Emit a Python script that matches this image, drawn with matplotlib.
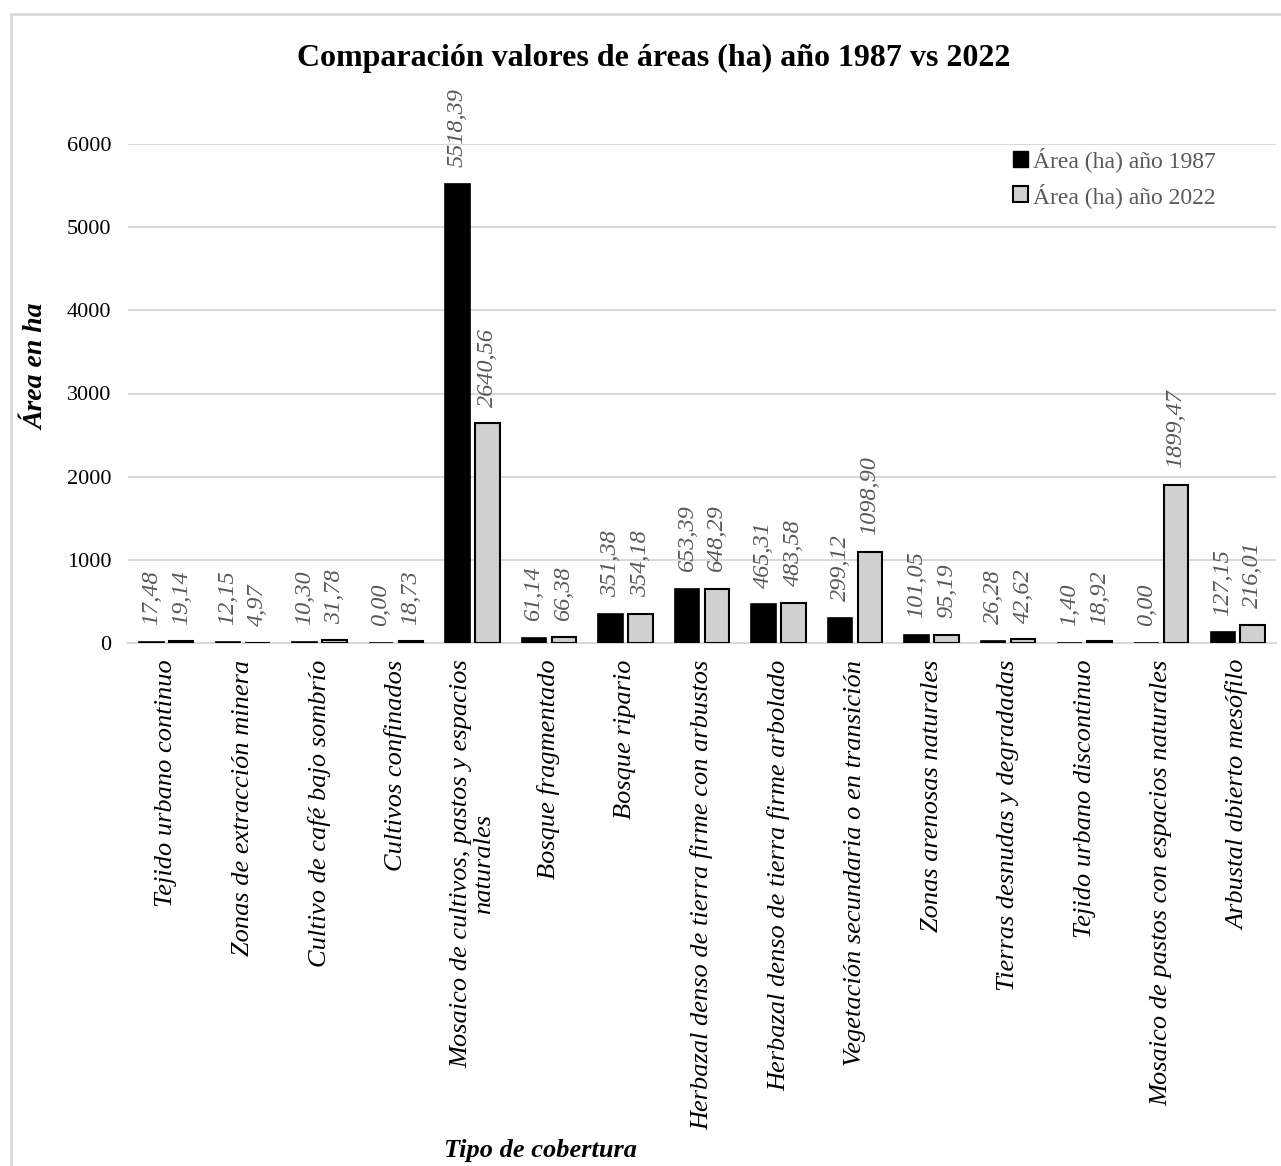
import numpy as np
import matplotlib
matplotlib.use('Agg')
import matplotlib.pyplot as plt
from matplotlib.patches import Patch, Rectangle

plt.rcParams['font.family'] = ['Liberation Serif', 'DejaVu Serif']

coberturas = [
    'Tejido urbano continuo',
    'Zonas de extracción minera',
    'Cultivo de café bajo sombrío',
    'Cultivos confinados',
    'Mosaico de cultivos, pastos y espacios\nnaturales',
    'Bosque fragmentado',
    'Bosque ripario',
    'Herbazal denso de tierra firme con arbustos',
    'Herbazal denso de tierra firme arbolado',
    'Vegetación secundaria o en transición',
    'Zonas arenosas naturales',
    'Tierras desnudas y degradadas',
    'Tejido urbano discontinuo',
    'Mosaico de pastos con espacios naturales',
    'Arbustal abierto mesófilo',
]
area_1987 = [17.48, 12.15, 10.30, 0.00, 5518.39, 61.14, 351.38, 653.39,
             465.31, 299.12, 101.05, 26.28, 1.40, 0.00, 127.15]
area_2022 = [19.14, 4.97, 31.78, 18.73, 2640.56, 66.38, 354.18, 648.29,
             483.58, 1098.90, 95.19, 42.62, 18.92, 1899.47, 216.01]

W, H = 1281, 1166
fig = plt.figure(figsize=(W / 100, H / 100), dpi=100)

# marco gris del grafico
fig.patches.append(Rectangle((11 / W, -0.1), 1.2, 1 - 14 / H + 0.1,
                             transform=fig.transFigure, fill=False,
                             edgecolor='#d9d9d9', linewidth=2))

ax = fig.add_axes([128 / W, 1 - 643 / H, (1276 - 128) / W, (643 - 144) / H])

x = np.arange(len(coberturas))
ancho = 0.32
desp = 0.195
b1 = ax.bar(x - desp, area_1987, ancho, color='black', edgecolor='black', linewidth=1.2, zorder=3)
b2 = ax.bar(x + desp, area_2022, ancho, color='#d0d0d0', edgecolor='black', linewidth=1.5, zorder=3)

def etiquetas(barras, valores):
    for b, v in zip(barras, valores):
        ax.annotate(f'{v:.2f}'.replace('.', ','),
                    (b.get_x() + b.get_width() / 2, b.get_height()),
                    xytext=(0, 12), textcoords='offset points',
                    rotation=90, ha='center', va='bottom',
                    fontsize=17.5, style='italic', color='#595959',
                    clip_on=False)

etiquetas(b1, area_1987)
etiquetas(b2, area_2022)

ax.set_xlim(-0.5, len(coberturas) - 0.5)
ax.set_ylim(0, 6000)
ax.set_yticks(range(0, 6001, 1000))
ax.yaxis.grid(True, color='#d9d9d9', linewidth=1.5, zorder=0)
ax.set_axisbelow(True)
for s in ['top', 'right', 'left']:
    ax.spines[s].set_visible(False)
ax.spines['bottom'].set_color('#d9d9d9')
ax.spines['bottom'].set_linewidth(1.5)
ax.tick_params(axis='both', length=0)
ax.tick_params(axis='y', labelsize=16, pad=12)
ax.set_xticks(x)
ax.set_xticklabels(coberturas, rotation=90, fontsize=19, style='italic',
                   ha='center', va='top', linespacing=1.05)
ax.tick_params(axis='x', pad=12)

fig.text(654 / W, 1 - 58 / H, 'Comparación valores de áreas (ha) año 1987 vs 2022',
         ha='center', va='center', fontsize=23, fontweight='bold')
fig.text(37 / W, 1 - 367 / H, 'Área en ha', rotation=90, ha='center', va='center',
         fontsize=20, fontweight='bold', style='italic')
fig.text(541 / W, 1 - 1150 / H, 'Tipo de cobertura', ha='center', va='center',
         fontsize=19, fontweight='bold', style='italic')

handles = [Patch(facecolor='black', edgecolor='black', label='Área (ha) año 1987'),
           Patch(facecolor='#d0d0d0', edgecolor='black', linewidth=1.5, label='Área (ha) año 2022')]
leg = fig.legend(handles=handles, loc='upper left', bbox_to_anchor=(1013 / W, 1 - 147 / H),
                 frameon=False, fontsize=17, handlelength=0.65, handleheight=0.65,
                 handletextpad=0.2, labelspacing=0.45, borderaxespad=0, borderpad=0)
for t in leg.get_texts():
    t.set_color('#595959')

fig.savefig('out.png', dpi=100)
